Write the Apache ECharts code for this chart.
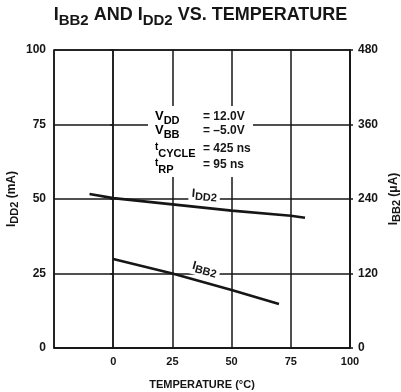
<!DOCTYPE html>
<html><head><meta charset="utf-8">
<script src="https://cdn.jsdelivr.net/npm/echarts@6/dist/echarts.min.js"></script>
<style>html,body{margin:0;padding:0;background:#fff}#c{width:401px;height:392px}</style>
</head><body><div id="c"></div>
<script>
// ---- data ----
const temperatureTicks = [-25, 0, 25, 50, 75, 100];
const iddTemps  = [-10, 0, 25, 50, 75, 81];
const iddValues = [51.7, 50.3, 48.2, 46.1, 44.4, 43.7];   // mA (left axis)
const ibbTemps  = [0, 25, 50, 70];
const ibbValues = [143.5, 120, 93.5, 71];                  // µA (right axis)
const iddTicks  = [0, 25, 50, 75, 100];
const ibbTicks  = [0, 120, 240, 360, 480];
const condNames = [['V', 'DD'], ['V', 'BB'], ['t', 'CYCLE'], ['t', 'RP']];
const condValues = ['= 12.0V', '= \u20135.0V', '= 425 ns', '= 95 ns'];

const FONT = 'Liberation Sans';
const INK = '#161616';

function pairs(xs, ys) { return xs.map((x, i) => [x, ys[i]]); }

const subRich = (size, subSize, shift) => ({
  m: { fontSize: size, fontWeight: 'bold', fontFamily: FONT, color: INK, lineHeight: size + 2, padding: [0, 0, shift, 0] },
  s: { fontSize: subSize, fontWeight: 'bold', fontFamily: FONT, color: INK, lineHeight: size + 2, padding: [shift, 0, 0, 0] },
  t: { fontSize: subSize - 1, fontWeight: 'bold', fontFamily: FONT, color: INK, lineHeight: subSize - 1, padding: [0, 0, size + 2 + shift - (subSize - 1), 0] }
});

const chart = echarts.init(document.getElementById('c'), null, { renderer: 'canvas' });

const condGraphics = [{
  type: 'rect', left: 148, top: 106, z: 10,
  shape: { width: 105, height: 71 }, style: { fill: '#fff' }
}];
const rowTops = [110, 124, 142, 158];
condNames.forEach((n, i) => {
  const txt = n[0] === 't' ? '{t|t}{s|' + n[1] + '}' : '{m|' + n[0] + '}{s|' + n[1] + '}';
  condGraphics.push({
    type: 'text', left: 155, top: rowTops[i], z: 11,
    style: { text: txt, rich: subRich(13, 11, 4) }
  });
  condGraphics.push({
    type: 'text', left: 203, top: rowTops[i] + 1, z: 11,
    style: { text: condValues[i], font: 'bold 12px ' + FONT, fill: INK }
  });
});

const option = {
  backgroundColor: '#fff',
  animation: false,
  title: {
    text: '{m|I}{s|BB2}{m| AND I}{s|DD2}{m| VS. TEMPERATURE}',
    left: 'center', top: 3,
    textStyle: { rich: subRich(18, 15, 5) }
  },
  grid: { left: 54, right: 51, top: 50, bottom: 44, show: true, borderColor: INK, borderWidth: 1.5,
    backgroundColor: 'transparent', outerBoundsMode: 'none', containLabel: false },
  xAxis: {
    type: 'value', min: temperatureTicks[0], max: temperatureTicks[temperatureTicks.length - 1], interval: 25,
    name: 'TEMPERATURE (°C)', nameLocation: 'middle', nameGap: 31, nameMoveOverlap: false,
    nameTextStyle: { fontFamily: FONT, fontWeight: 'bold', fontSize: 11, color: INK },
    axisLine: { show: true, lineStyle: { color: INK, width: 1.5 } },
    axisTick: { show: false },
    splitLine: { show: true, lineStyle: { color: INK, width: 1.5 } },
    axisLabel: { fontFamily: FONT, fontWeight: 'bold', fontSize: 11, color: INK, margin: 8,
      formatter: v => (v === temperatureTicks[0] ? '' : String(v)) }
  },
  yAxis: [{
    type: 'value', min: iddTicks[0], max: iddTicks[iddTicks.length - 1], interval: 25,
    name: '{m|I}{s|DD2}{m| (mA)}', nameLocation: 'middle', nameGap: 34, nameRotate: 90, nameMoveOverlap: false,
    nameTextStyle: { rich: subRich(12, 11, 3) },
    axisLine: { show: true, lineStyle: { color: INK, width: 1.5 } },
    axisTick: { show: true, length: 3, lineStyle: { color: INK, width: 1.5 } },
    splitLine: { show: true, lineStyle: { color: INK, width: 1.5 } },
    axisLabel: { fontFamily: FONT, fontWeight: 'bold', fontSize: 12, color: INK, margin: 8 }
  }, {
    type: 'value', min: ibbTicks[0], max: ibbTicks[ibbTicks.length - 1], interval: 120, position: 'right',
    name: '{m|I}{s|BB2}{m| (\u03bcA)}', nameLocation: 'middle', nameGap: 38, nameRotate: 90, nameMoveOverlap: false,
    nameTextStyle: { rich: subRich(12, 11, 3) },
    axisLine: { show: true, lineStyle: { color: INK, width: 1.5 } },
    axisTick: { show: true, length: 3, lineStyle: { color: INK, width: 1.5 } },
    splitLine: { show: false },
    axisLabel: { fontFamily: FONT, fontWeight: 'bold', fontSize: 12, color: INK, margin: 8 }
  }],
  series: [{
    name: 'IDD2', type: 'line', yAxisIndex: 0, data: pairs(iddTemps, iddValues),
    showSymbol: false, lineStyle: { color: INK, width: 2.6 }, z: 5,
    markPoint: {
      symbol: 'rect', symbolSize: 0, silent: true,
      data: [{ coord: [38.5, 51] }],
      label: { show: true, position: 'inside', rotate: -5, formatter: '{m|I}{s|DD2}',
        backgroundColor: '#fff', padding: [0, 3, 0, 3], rich: subRich(12, 11, 3) }
    }
  }, {
    name: 'IBB2', type: 'line', yAxisIndex: 1, data: pairs(ibbTemps, ibbValues),
    showSymbol: false, lineStyle: { color: INK, width: 2.6 }, z: 5,
    markPoint: {
      symbol: 'rect', symbolSize: 0, silent: true,
      data: [{ coord: [38.5, 125.5] }],
      label: { show: true, position: 'inside', rotate: -15, formatter: '{m|I}{s|BB2}',
        backgroundColor: '#fff', padding: [0, 3, 0, 3], rich: subRich(12, 11, 3) }
    }
  }],
  graphic: condGraphics
};
chart.setOption(option);
</script>
</body></html>
